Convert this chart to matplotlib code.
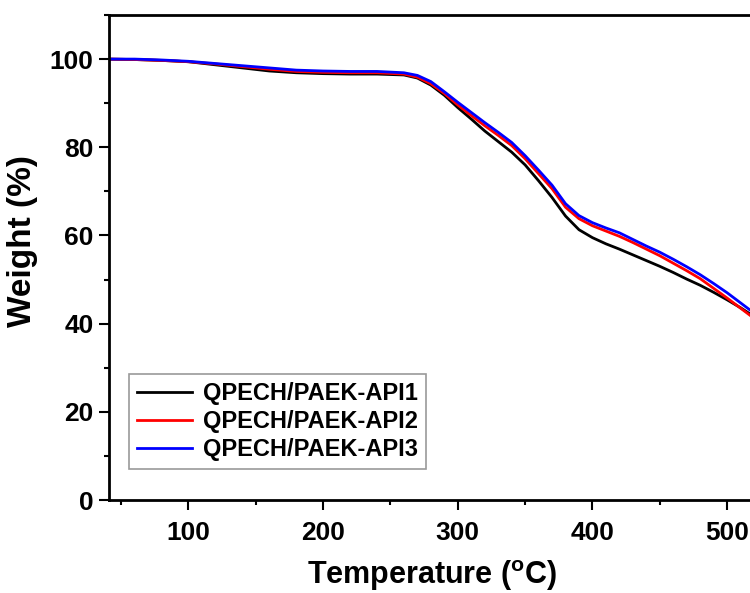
import numpy as np
import matplotlib as mpl
mpl.use('Agg')
import matplotlib.pyplot as plt
from matplotlib.ticker import MultipleLocator

mpl.rcParams['font.family'] = 'Liberation Sans'
mpl.rcParams['font.weight'] = 'bold'
mpl.rcParams['mathtext.fontset'] = 'custom'
mpl.rcParams['mathtext.rm'] = 'Liberation Sans:bold'
mpl.rcParams['mathtext.it'] = 'Liberation Sans:bold'

# TGA data (temperature in C, weight in %)
temp = [40, 60, 80, 100, 120, 140, 160, 180, 200, 220, 240, 260, 270, 280,
        290, 300, 310, 320, 330, 340, 350, 360, 370, 380, 390, 400, 410,
        420, 430, 440, 450, 460, 470, 480, 490, 500, 510, 520, 525]
api1 = [100.0, 99.9, 99.7, 99.4, 98.7, 98.0, 97.3, 96.9, 96.7, 96.6, 96.6,
        96.4, 95.7, 94.1, 91.8, 89.0, 86.4, 83.7, 81.3, 78.9, 76.0, 72.4,
        68.6, 64.4, 61.3, 59.5, 58.1, 56.9, 55.6, 54.3, 53.0, 51.6, 50.1,
        48.7, 47.1, 45.4, 43.6, 41.6, 40.5]
api2 = [100.0, 99.9, 99.7, 99.4, 98.9, 98.3, 97.7, 97.2, 97.0, 96.9, 96.9,
        96.6, 95.9, 94.4, 92.2, 89.6, 87.2, 84.9, 82.7, 80.4, 77.4, 74.0,
        70.6, 66.4, 63.8, 62.2, 61.0, 59.8, 58.4, 56.9, 55.4, 53.7, 52.0,
        50.2, 48.0, 45.8, 43.5, 41.2, 40.0]
api3 = [100.0, 100.0, 99.8, 99.5, 99.0, 98.5, 98.0, 97.5, 97.3, 97.2, 97.2,
        96.9, 96.3, 94.9, 92.6, 90.2, 87.9, 85.6, 83.4, 81.1, 78.1, 74.8,
        71.4, 67.2, 64.5, 62.9, 61.7, 60.6, 59.1, 57.6, 56.2, 54.6, 52.9,
        51.1, 49.1, 47.0, 44.7, 42.4, 41.2]
labels = ['QPECH/PAEK-API1', 'QPECH/PAEK-API2', 'QPECH/PAEK-API3']
colors = ['black', 'red', 'blue']

fig = plt.figure(figsize=(7.5, 5.93), dpi=100)
# axes run past the right edge of the figure, as in the cropped original
ax = fig.add_axes([109/750, 93/593, 672/750, 485/593])

for w, lab, c in zip([api1, api2, api3], labels, colors):
    ax.plot(temp, w, color=c, lw=2, label=lab)

ax.set_xlim(41, 540)
ax.set_ylim(0, 110)
ax.xaxis.set_major_locator(MultipleLocator(100))
ax.xaxis.set_minor_locator(MultipleLocator(50))
ax.yaxis.set_major_locator(MultipleLocator(20))
ax.yaxis.set_minor_locator(MultipleLocator(10))
ax.tick_params(which='both', direction='out', width=1.5, labelsize=19)
ax.tick_params(which='major', length=7)
ax.tick_params(which='minor', length=3.6)
ax.tick_params(axis='x', pad=8)
ax.tick_params(axis='y', pad=4)
for s in ax.spines.values():
    s.set_linewidth(2)
ax.set_yticks([0, 20, 40, 60, 80, 100])

ax.set_xlabel(r'Temperature ($^{\mathrm{o}}$C)', fontsize=22, fontweight='bold')
ax.set_ylabel('Weight (%)', fontsize=24, fontweight='bold')
ax.xaxis.set_label_coords(0.481, -0.119)
ax.yaxis.set_label_coords(-0.106, 0.534)

leg = fig.legend(loc='lower left', bbox_to_anchor=(129/750, 124/593),
                 fontsize=17, frameon=True, fancybox=False, handlelength=2.35,
                 handletextpad=0.45, borderpad=0.33, labelspacing=0.22,
                 borderaxespad=0)
leg.get_frame().set_edgecolor('#808080')
leg.get_frame().set_linewidth(1.2)
for t in leg.get_texts():
    t.set_fontweight('bold')

plt.savefig('out.png', dpi=100)
